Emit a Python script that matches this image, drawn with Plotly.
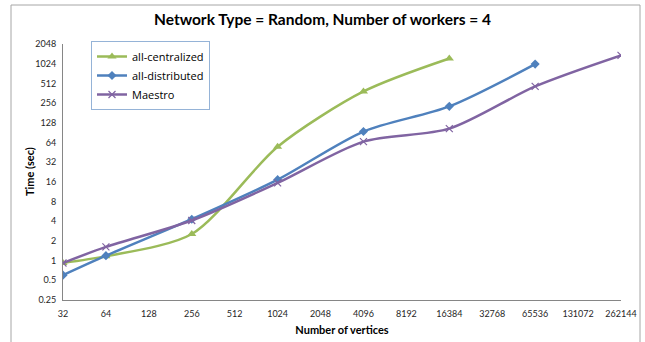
import plotly.graph_objects as go

# Graph sizes (number of vertices) and run times in seconds
vertices_central = [32, 64, 256, 1024, 4096, 16384]
time_central = [0.92, 1.17, 2.55, 55, 385, 1230]

vertices_distrib = [32, 64, 256, 1024, 4096, 16384, 65536]
time_distrib = [0.6, 1.19, 4.3, 17.3, 94, 228, 1010]

vertices_maestro = [32, 64, 256, 1024, 4096, 16384, 65536, 262144]
time_maestro = [0.92, 1.62, 4.1, 15.4, 66, 104, 460, 1370]

x_ticks = [32, 64, 128, 256, 512, 1024, 2048, 4096, 8192, 16384, 32768, 65536, 131072, 262144]
y_ticks = [0.25, 0.5, 1, 2, 4, 8, 16, 32, 64, 128, 256, 512, 1024, 2048]

FONT = "Lato, 'Open Sans', sans-serif"
GREEN = "#9BBB59"
BLUE = "#4F81BD"
PURPLE = "#8064A2"

fig = go.Figure()
fig.add_trace(go.Scatter(
    x=vertices_central, y=time_central, name="all-centralized",
    mode="lines+markers", line=dict(color=GREEN, width=2.5, shape="spline", smoothing=0.8),
    marker=dict(symbol="triangle-up", size=8, color=GREEN),
))
fig.add_trace(go.Scatter(
    x=vertices_distrib, y=time_distrib, name="all-distributed",
    mode="lines+markers", line=dict(color=BLUE, width=2.5, shape="spline", smoothing=0.8),
    marker=dict(symbol="diamond", size=7, color=BLUE),
))
fig.add_trace(go.Scatter(
    x=vertices_maestro, y=time_maestro, name="Maestro",
    mode="lines+markers", line=dict(color=PURPLE, width=2.5, shape="spline", smoothing=0.8),
    marker=dict(symbol="x-thin-open", size=7, color=PURPLE, line=dict(color=PURPLE, width=1.2)),
))

# plot area in pixels: x 63..621, y 44..300
L, R, T, B = 63, 621, 44, 300
W, H = R - L, B - T

fig.update_layout(
    width=645, height=342,
    margin=dict(l=L, r=645 - R, t=T, b=342 - B, autoexpand=False),
    paper_bgcolor="white", plot_bgcolor="white",
    font=dict(family=FONT, size=9, color="#262626"),
    title=dict(text="<b>Network Type = Random, Number of workers = 4</b>",
               x=0.5, xanchor="center", y=1 - 20 / 342, yanchor="middle",
               font=dict(family=FONT, size=15.5, color="black")),
    showlegend=True,
    legend=dict(x=(91 - L) / W, y=(B - 41) / H, xanchor="left", yanchor="top",
                bgcolor="white", bordercolor="#95B3D7", borderwidth=1,
                font=dict(family="'Open Sans', sans-serif", size=11, color="black"),
                tracegroupgap=0, itemwidth=30),
    xaxis=dict(type="log", range=[1.50515, 5.41854], automargin=False,
               tickvals=x_ticks, ticktext=[str(v) for v in x_ticks],
               showgrid=False, zeroline=False, showline=True, linecolor="#868686", linewidth=1,
               ticks="", ticklabelstandoff=5, tickfont=dict(size=9, color="#262626"),
               title=dict(text="<b>Number of vertices</b>", standoff=8,
                          font=dict(family=FONT, size=11, color="black"))),
    yaxis=dict(type="log", range=[-0.60206, 3.31133], automargin=False,
               tickvals=y_ticks, ticktext=[("%g" % v) for v in y_ticks],
               showgrid=False, zeroline=False, showline=True, linecolor="#868686", linewidth=1,
               ticks="", ticklabelstandoff=4, tickfont=dict(size=9, color="#262626")),
    annotations=[dict(text="<b>Time (sec)</b>", textangle=-90, showarrow=False,
                      xref="paper", yref="paper", x=(29 - L) / W, y=(B - 172) / H,
                      xanchor="center", yanchor="middle",
                      font=dict(family=FONT, size=11, color="black"))],
    shapes=[dict(type="rect", xref="paper", yref="paper",
                 x0=(11 - L) / W, x1=(640 - L) / W,
                 y0=(B - 345) / H, y1=(B - 5) / H,
                 line=dict(color="#A6A6A6", width=1), fillcolor="rgba(0,0,0,0)", layer="below")],
)

fig.write_html("out.html")
